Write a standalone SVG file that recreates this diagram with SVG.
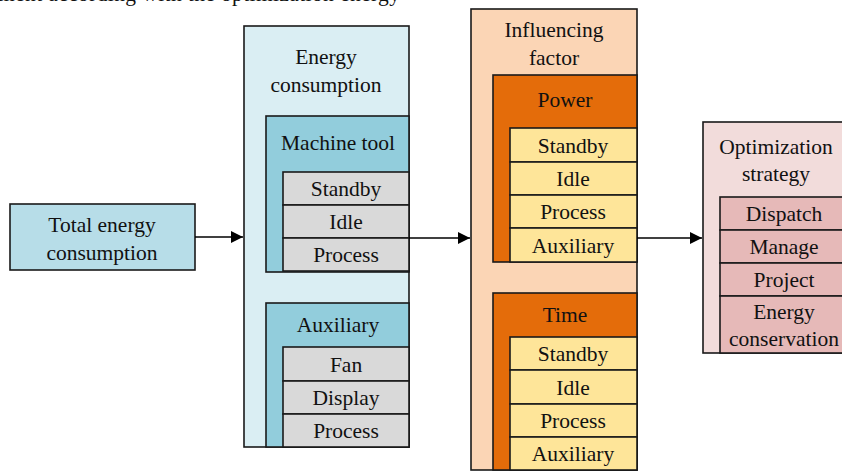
<svg xmlns="http://www.w3.org/2000/svg" width="842" height="472" viewBox="0 0 842 472" font-family="Liberation Serif, DejaVu Serif, serif">
  <defs>
    <style>
      text { font-family: "Liberation Serif", "DejaVu Serif", serif; font-size: 21.5px; fill: #111; text-anchor: middle; }
      .box { stroke: #1a1a1a; stroke-width: 1.6; }
      .total { fill: #b7dde8; }
      .energy { fill: #daeef3; }
      .group-blue { fill: #92cddc; }
      .item-gray { fill: #d9d9d9; }
      .factor { fill: #fbd5b5; }
      .group-orange { fill: #e46c0a; }
      .item-yellow { fill: #fee599; }
      .strategy { fill: #f2dcdb; }
      .item-rose { fill: #e6b9b8; }
      .conn { stroke: #000; stroke-width: 1.6; fill: none; marker-end: url(#arrow); }
      .caption { text-anchor: start; }
    </style>
    <marker id="arrow" viewBox="0 0 12 12" refX="12" refY="6" markerWidth="12" markerHeight="12" markerUnits="userSpaceOnUse" orient="auto">
      <path d="M0,0 L12,6 L0,12 z" fill="#000"/>
    </marker>
  </defs>

  <rect x="0" y="0" width="842" height="472" fill="#fff"/>

  <!-- clipped line of running text above the figure -->
  <text class="caption" x="-2" y="0.5" textLength="402">ment according with the optimization energy</text>

  <!-- source box -->
  <g id="total-energy">
    <rect class="box total" x="10" y="204" width="185" height="66"/>
    <text x="102" y="232">Total energy</text>
    <text x="102" y="260">consumption</text>
  </g>

  <!-- energy consumption column -->
  <g id="energy-consumption">
    <rect class="box energy" x="244" y="26" width="165" height="421"/>
    <text x="326" y="64">Energy</text>
    <text x="326" y="92">consumption</text>
  </g>

  <g id="machine-tool">
    <rect class="box group-blue" x="266" y="116" width="143" height="156"/>
    <text x="338" y="150">Machine tool</text>
    <rect class="box item-gray" x="283" y="172" width="126" height="33"/>
    <text x="346" y="196">Standby</text>
    <rect class="box item-gray" x="283" y="205" width="126" height="33"/>
    <text x="346" y="229">Idle</text>
    <rect class="box item-gray" x="283" y="238" width="126" height="33"/>
    <text x="346" y="262">Process</text>
  </g>

  <g id="auxiliary">
    <rect class="box group-blue" x="266" y="303" width="143" height="144"/>
    <text x="338" y="332">Auxiliary</text>
    <rect class="box item-gray" x="283" y="347" width="126" height="34"/>
    <text x="346" y="372">Fan</text>
    <rect class="box item-gray" x="283" y="381" width="126" height="33"/>
    <text x="346" y="405">Display</text>
    <rect class="box item-gray" x="283" y="414" width="126" height="33"/>
    <text x="346" y="438">Process</text>
  </g>

  <!-- influencing factor column -->
  <g id="influencing-factor">
    <rect class="box factor" x="471" y="9" width="166" height="461"/>
    <text x="554" y="37">Influencing</text>
    <text x="554" y="65">factor</text>
  </g>

  <g id="power">
    <rect class="box group-orange" x="493" y="75" width="144" height="187"/>
    <text x="565" y="107">Power</text>
    <rect class="box item-yellow" x="510" y="128" width="127" height="34"/>
    <text x="573" y="153">Standby</text>
    <rect class="box item-yellow" x="510" y="162" width="127" height="33"/>
    <text x="573" y="186">Idle</text>
    <rect class="box item-yellow" x="510" y="195" width="127" height="33"/>
    <text x="573" y="219">Process</text>
    <rect class="box item-yellow" x="510" y="228" width="127" height="34"/>
    <text x="573" y="253">Auxiliary</text>
  </g>

  <g id="time">
    <rect class="box group-orange" x="493" y="293" width="144" height="177"/>
    <text x="565" y="322">Time</text>
    <rect class="box item-yellow" x="510" y="337" width="127" height="33"/>
    <text x="573" y="361">Standby</text>
    <rect class="box item-yellow" x="510" y="370" width="127" height="34"/>
    <text x="573" y="395">Idle</text>
    <rect class="box item-yellow" x="510" y="404" width="127" height="33"/>
    <text x="573" y="428">Process</text>
    <rect class="box item-yellow" x="510" y="437" width="127" height="33"/>
    <text x="573" y="461">Auxiliary</text>
  </g>

  <!-- optimization strategy column -->
  <g id="optimization-strategy">
    <rect class="box strategy" x="703" y="122" width="145" height="231"/>
    <text x="776" y="154">Optimization</text>
    <text x="776" y="181">strategy</text>
    <rect class="box item-rose" x="720" y="197" width="128" height="33"/>
    <text x="784" y="221">Dispatch</text>
    <rect class="box item-rose" x="720" y="230" width="128" height="33"/>
    <text x="784" y="254">Manage</text>
    <rect class="box item-rose" x="720" y="263" width="128" height="33"/>
    <text x="784" y="287">Project</text>
    <rect class="box item-rose" x="720" y="296" width="128" height="57"/>
    <text x="784" y="319">Energy</text>
    <text x="784" y="346">conservation</text>
  </g>

  <!-- connectors -->
  <g id="connectors">
    <line class="conn" x1="195" y1="237" x2="243" y2="237"/>
    <line class="conn" x1="409" y1="238" x2="470" y2="238"/>
    <line class="conn" x1="637" y1="238" x2="702" y2="238"/>
  </g>
</svg>
